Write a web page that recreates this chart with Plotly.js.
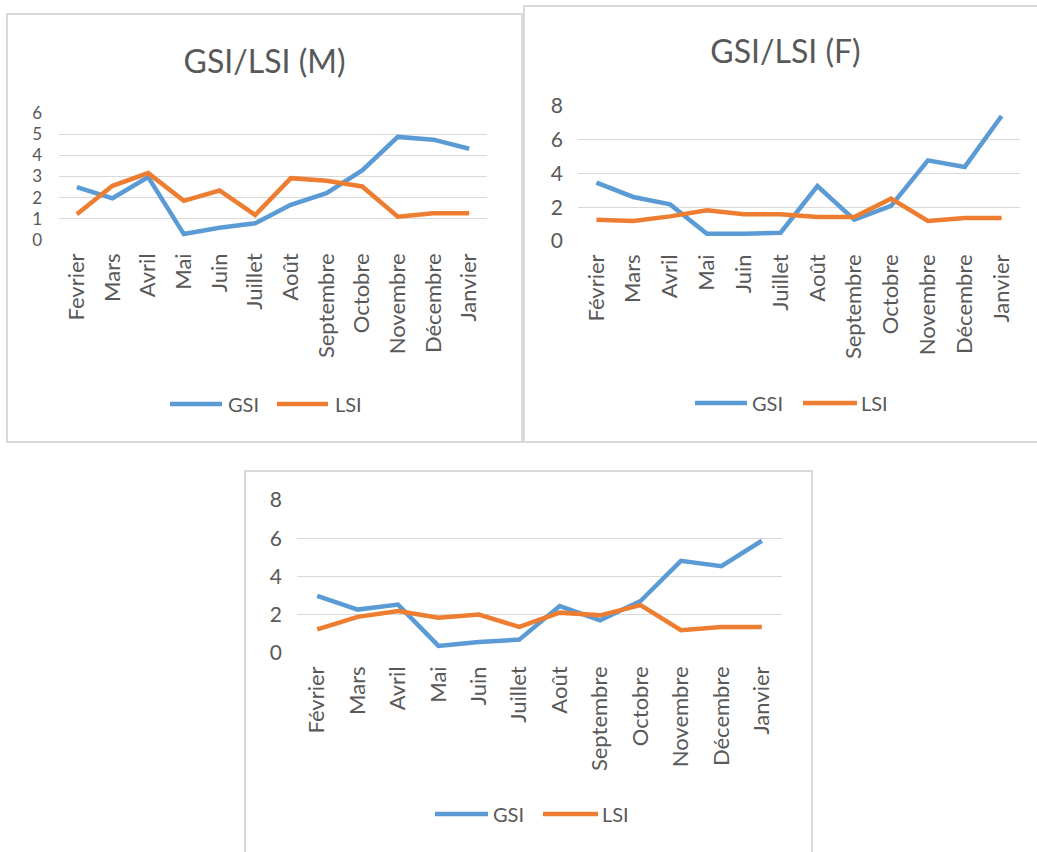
<!DOCTYPE html>
<html>
<head>
<meta charset="utf-8">
<script src="https://cdn.plot.ly/plotly-3.0.1.min.js"></script>
<style>
  html, body { margin: 0; padding: 0; background: #fff; width: 1037px; height: 852px; overflow: hidden; }
  .panel { position: absolute; border: 2px solid #d9d9d9; background: #fff; }
</style>
</head>
<body>
<div id="chartM" class="panel" style="left:6px; top:13px; width:513px; height:426px;"></div>
<div id="chartF" class="panel" style="left:523px; top:5px; width:521px; height:434px;"></div>
<div id="chartT" class="panel" style="left:244px; top:470px; width:565px; height:396px;"></div>
<script>
// ---- Data ----
const monthsM = ['Fevrier','Mars','Avril','Mai','Juin','Juillet','Août','Septembre','Octobre','Novembre','Décembre','Janvier'];
const months  = ['Février','Mars','Avril','Mai','Juin','Juillet','Août','Septembre','Octobre','Novembre','Décembre','Janvier'];
const seriesNames = ['GSI', 'LSI'];

const gsiM = [2.50, 1.97, 2.97, 0.28, 0.58, 0.79, 1.66, 2.21, 3.29, 4.87, 4.74, 4.31];
const lsiM = [1.22, 2.56, 3.16, 1.85, 2.34, 1.18, 2.92, 2.80, 2.53, 1.10, 1.26, 1.26];

const gsiF = [3.46, 2.61, 2.17, 0.43, 0.43, 0.49, 3.26, 1.26, 2.08, 4.78, 4.39, 7.41];
const lsiF = [1.26, 1.19, 1.46, 1.82, 1.58, 1.58, 1.42, 1.42, 2.51, 1.19, 1.36, 1.36];

const gsiT = [2.99, 2.27, 2.53, 0.37, 0.58, 0.70, 2.45, 1.71, 2.72, 4.82, 4.54, 5.87];
const lsiT = [1.24, 1.89, 2.20, 1.85, 2.01, 1.36, 2.11, 1.97, 2.50, 1.19, 1.36, 1.36];

const titleM = 'GSI/LSI (M)';
const titleF = 'GSI/LSI (F)';

// ---- Styling ----
const COLORS = ['#5B9BD5', '#ED7D31'];
const TEXT = '#595959';
const FONT = 'Lato, "Open Sans", sans-serif';

function makeChart(id, cfg) {
  const W = cfg.W, H = cfg.H, m = cfg.margin;
  const pw = W - m.l - m.r, ph = H - m.t - m.b;
  const px2x = px => (px - m.l) / pw;
  const py2y = py => (m.t + ph - py) / ph;

  const traces = cfg.series.map((ys, i) => ({
    type: 'scatter', mode: 'lines', x: cfg.cats, y: ys, name: seriesNames[i],
    line: { color: COLORS[i], width: 4.5 }, showlegend: false, hoverinfo: 'skip'
  }));

  const shapes = [], annotations = [];
  cfg.legend.forEach((it, i) => {
    shapes.push({ type: 'line', xref: 'paper', yref: 'paper',
      x0: px2x(it.x0), x1: px2x(it.x1), y0: py2y(cfg.legendY), y1: py2y(cfg.legendY),
      line: { color: COLORS[i], width: 4.5 } });
    annotations.push({ xref: 'paper', yref: 'paper', x: px2x(it.tx), y: py2y(cfg.legendY),
      xanchor: 'left', yanchor: 'middle', showarrow: false, text: seriesNames[i],
      font: { family: FONT, size: 20, color: TEXT } });
  });

  const layout = {
    width: W, height: H, margin: m,
    paper_bgcolor: '#fff', plot_bgcolor: '#fff',
    font: { family: FONT, color: TEXT },
    showlegend: false,
    xaxis: { type: 'category', range: [-0.5, 11.5], showgrid: false, zeroline: false,
      showline: false, ticks: '', tickangle: -90, ticklabelstandoff: 8,
      tickfont: { family: FONT, size: 22, color: TEXT }, fixedrange: true },
    yaxis: { range: cfg.yrange, dtick: cfg.dtick, tick0: 0, showgrid: true, gridcolor: '#d9d9d9',
      gridwidth: 1.3, zeroline: false, showline: false, ticks: '', ticklabelstandoff: cfg.ystandoff,
      tickfont: { family: FONT, size: cfg.ysize, color: TEXT }, fixedrange: true },
    shapes: shapes, annotations: annotations
  };
  if (cfg.title) {
    layout.title = { text: cfg.title, x: 0.5, xref: 'container', xanchor: 'center',
      y: 1 - cfg.titleY / H, yref: 'container', yanchor: 'middle',
      font: { family: FONT, size: 32, color: TEXT } };
  }
  Plotly.newPlot(id, traces, layout, { displayModeBar: false, staticPlot: true });
}

makeChart('chartM', {
  W: 513, H: 426, margin: { l: 51, r: 34, t: 98, b: 201 },
  cats: monthsM, series: [gsiM, lsiM], yrange: [0, 6], dtick: 1,
  ysize: 17, ystandoff: 16,
  title: titleM, titleY: 47,
  legendY: 389,
  legend: [ { x0: 162, x1: 214, tx: 218 }, { x0: 269, x1: 320, tx: 325 } ]
});

makeChart('chartF', {
  W: 521, H: 434, margin: { l: 53, r: 26, t: 99, b: 200 },
  cats: months, series: [gsiF, lsiF], yrange: [0, 8], dtick: 2,
  ysize: 21, ystandoff: 14,
  title: titleF, titleY: 45,
  legendY: 396,
  legend: [ { x0: 170, x1: 222, tx: 225 }, { x0: 278, x1: 332, tx: 334 } ]
});

makeChart('chartT', {
  W: 565, H: 396, margin: { l: 51, r: 29, t: 28, b: 215 },
  cats: months, series: [gsiT, lsiT], yrange: [0, 8], dtick: 2,
  ysize: 21, ystandoff: 14,
  title: null,
  legendY: 342,
  legend: [ { x0: 189, x1: 242, tx: 245 }, { x0: 297, x1: 352, tx: 354 } ]
});
</script>
</body>
</html>
